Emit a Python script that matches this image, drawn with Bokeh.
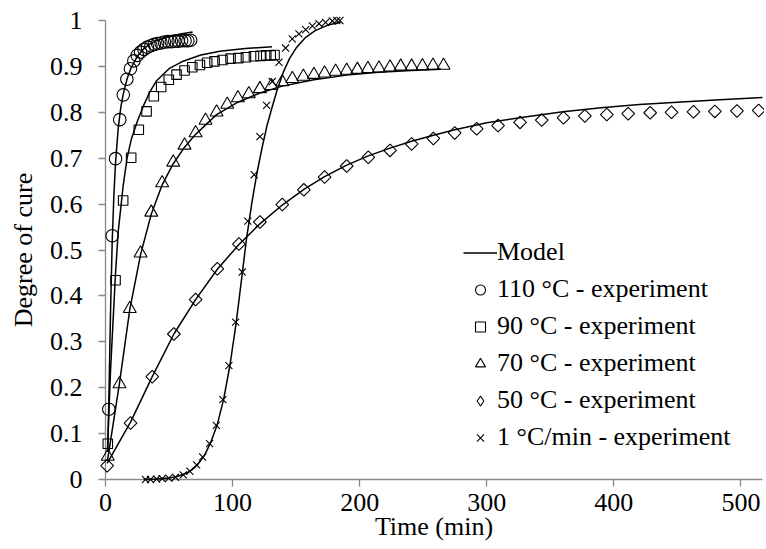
import math
from bokeh.plotting import figure
from bokeh.models import FixedTicker, CustomJSTickFormatter, Legend, LegendItem, Range1d
from bokeh.embed import file_html
from bokeh.resources import INLINE

# ---------------- data ----------------
x_ticks = [0, 100, 200, 300, 400, 500]
y_ticks = [0, 0.1, 0.2, 0.3, 0.4, 0.5, 0.6, 0.7, 0.8, 0.9, 1]

# 110 °C experiment
t110 = [2.6, 5.3, 7.9, 11.2, 14.0, 16.8, 19.6, 22.3, 25.0, 27.6, 30.3, 33.0, 35.7,
        38.4, 41.0, 43.7, 46.4, 49.1, 51.8, 54.5, 57.2, 59.9, 62.6, 64.8, 67.0]
a110 = [0.153, 0.531, 0.699, 0.784, 0.838, 0.872, 0.895, 0.912, 0.924, 0.931, 0.937, 0.942, 0.945,
        0.948, 0.950, 0.951, 0.953, 0.954, 0.954, 0.955, 0.955, 0.956, 0.956, 0.956, 0.957]
# 90 °C experiment
t90 = [1.8, 7.9, 13.9, 20.2, 26.2, 32.3, 38.0, 43.8, 49.8, 55.9, 62.2, 68.3, 74.3, 80.0,
       85.8, 92.1, 98.4, 104.5, 110.5, 116.8, 122.0, 126.5, 130.0, 133.0]
a90 = [0.078, 0.434, 0.608, 0.701, 0.762, 0.802, 0.835, 0.855, 0.871, 0.882, 0.891, 0.898, 0.903, 0.908,
       0.911, 0.914, 0.917, 0.918, 0.920, 0.922, 0.923, 0.924, 0.924, 0.925]
# 70 °C experiment
t70 = [1.8, 11.0, 19.1, 27.6, 36.0, 44.6, 53.3, 62.2, 70.9, 78.7, 87.4, 95.8, 104.2, 112.8,
       121.5, 130.5, 139.1, 147.0, 155.7, 164.0, 172.4, 181.1, 189.8, 198.2, 206.5, 215.2,
       223.9, 232.3, 240.9, 249.4, 257.7, 266.0]
a70 = [0.05, 0.208, 0.372, 0.493, 0.582, 0.646, 0.691, 0.728, 0.755, 0.782, 0.800, 0.817, 0.831, 0.840,
       0.851, 0.858, 0.866, 0.873, 0.878, 0.882, 0.885, 0.889, 0.891, 0.893, 0.895, 0.896,
       0.898, 0.900, 0.900, 0.901, 0.902, 0.902]
# 50 °C experiment
t50 = [1.3, 19.7, 36.8, 53.8, 70.9, 88.0, 105.0, 121.5, 139.1, 156.1, 172.4, 189.8, 206.8, 223.9,
       240.9, 258.0, 274.8, 292.1, 308.9, 326.2, 343.3, 360.4, 377.2, 394.5, 411.3, 428.6,
       445.4, 462.7, 479.5, 496.9, 514.0]
a50 = [0.03, 0.123, 0.224, 0.317, 0.392, 0.459, 0.513, 0.561, 0.599, 0.631, 0.659, 0.683, 0.702, 0.717,
       0.731, 0.743, 0.755, 0.764, 0.771, 0.778, 0.783, 0.788, 0.792, 0.795, 0.797, 0.799,
       0.800, 0.801, 0.802, 0.803, 0.804]
# 1 °C/min experiment
tR = [31.5, 35.4, 40.2, 44.6, 49.8, 55.1, 61.2, 66.4, 71.7, 76.4, 81.9, 87.2, 92.4, 97.1, 102.4,
      107.6, 112.0, 117.0, 121.5, 126.8, 131.2, 136.5, 141.7, 147.0, 152.2, 157.5, 162.8, 168.0,
      173.2, 178.5, 182.0, 184.5]
aR = [0.0, 0.0, 0.001, 0.002, 0.003, 0.005, 0.010, 0.018, 0.032, 0.049, 0.078, 0.118, 0.174, 0.248,
      0.343, 0.452, 0.563, 0.664, 0.747, 0.815, 0.867, 0.909, 0.940, 0.960, 0.971, 0.980, 0.988,
      0.993, 0.996, 0.999, 1.0, 1.0]

# Model curves
m110_t = [1.8, 2.6, 4.0, 5.3, 6.6, 7.9, 10, 12, 14, 17, 20, 25, 30, 35, 40, 50, 60, 68.5]
m110_a = [0.06, 0.17, 0.37, 0.52, 0.62, 0.69, 0.765, 0.81, 0.84, 0.873, 0.896, 0.922, 0.938,
          0.949, 0.956, 0.965, 0.971, 0.975]
m90_t = [1.5, 4.0, 7.9, 10.0, 13.9, 17, 20.2, 25, 30, 35, 40, 50, 60, 75, 90, 110, 131]
m90_a = [0.06, 0.24, 0.45, 0.54, 0.64, 0.70, 0.74, 0.78, 0.815, 0.845, 0.868, 0.895, 0.91,
         0.925, 0.933, 0.939, 0.943]
m70_t = [1.5, 11.0, 19.1, 27.6, 36.0, 44.6, 53.3, 62.2, 70.9, 87.4, 104.2, 121.5, 139.1, 164.0,
         189.8, 215.2, 240.9, 264.0]
m70_a = [0.04, 0.21, 0.37, 0.49, 0.578, 0.642, 0.688, 0.724, 0.752, 0.795, 0.822, 0.842, 0.857,
         0.871, 0.881, 0.887, 0.891, 0.894]
m50_t = [1.3, 19.7, 36.8, 53.8, 70.9, 88.0, 105.0, 121.5, 139.1, 156.1, 172.4, 189.8, 206.8,
         223.9, 240.9, 258.0, 274.8, 300, 330, 360, 390, 420, 450, 480, 517]
m50_a = [0.035, 0.125, 0.224, 0.317, 0.392, 0.458, 0.512, 0.557, 0.598, 0.632, 0.660, 0.685, 0.705,
         0.722, 0.737, 0.750, 0.762, 0.777, 0.790, 0.801, 0.810, 0.817, 0.822, 0.827, 0.832]
mR_t = [30, 40, 50, 57, 63, 68, 73, 78, 83, 88, 93, 98, 103, 107, 111, 115, 119, 123, 127, 131,
        135, 140, 145, 150, 157, 165, 175, 185]
mR_a = [0.0, 0.001, 0.003, 0.007, 0.013, 0.021, 0.034, 0.053, 0.082, 0.12, 0.175, 0.25, 0.345,
        0.435, 0.525, 0.6, 0.665, 0.72, 0.77, 0.81, 0.848, 0.888, 0.918, 0.94, 0.962, 0.978,
        0.99, 0.996]

labels = ["Model", "110 °C - experiment", "90 °C - experiment", "70 °C - experiment",
          "50 °C - experiment", "1 °C/min - experiment"]

# ---------------- figure ----------------
FONT = "Liberation Serif"
p = figure(width=764, height=549, output_backend="svg", toolbar_location=None,
           x_range=Range1d(0, 517), y_range=Range1d(0, 1),
           min_border_left=105, min_border_right=2, min_border_top=20, min_border_bottom=70)
p.outline_line_color = None
p.xgrid.visible = False
p.ygrid.visible = False
p.background_fill_color = "white"
p.border_fill_color = "white"

for ax in (p.xaxis[0], p.yaxis[0]):
    ax.axis_line_color = "#898989"
    ax.axis_line_width = 1.3
    ax.major_tick_line_color = "#898989"
    ax.major_tick_line_width = 1.3
    ax.major_tick_in = 0
    ax.major_tick_out = 7
    ax.minor_tick_line_color = None
    ax.major_label_text_font = FONT
    ax.major_label_text_font_size = "26px"
    ax.major_label_text_color = "black"
    ax.axis_label_text_font = FONT
    ax.axis_label_text_font_size = "26px"
    ax.axis_label_text_font_style = "normal"
    ax.axis_label_text_color = "black"

p.xaxis.ticker = FixedTicker(ticks=x_ticks)
p.yaxis.ticker = FixedTicker(ticks=y_ticks)
p.yaxis.formatter = CustomJSTickFormatter(code="return (Math.round(tick*10)/10).toString();")
p.xaxis.axis_label = "Time (min)"
p.yaxis.axis_label = "Degree of cure"
p.yaxis.major_label_standoff = 16
p.yaxis.axis_label_standoff = 9
p.xaxis.major_label_standoff = 7
p.xaxis.axis_label_standoff = -2

line_kw = dict(line_color="black", line_width=1.5, level="overlay")
models = []
for mt, ma in ((m110_t, m110_a), (m90_t, m90_a), (m70_t, m70_a), (m50_t, m50_a), (mR_t, mR_a)):
    models.append(p.line(mt, ma, **line_kw))

mk = dict(line_color="black", fill_alpha=0, line_width=1.1, level="overlay")
r110 = p.scatter(t110, a110, marker="circle", size=12.5, **mk)
r90 = p.scatter(t90, a90, marker="square", size=9.5, **mk)
r70 = p.scatter(t70, a70, marker="triangle", size=13, **mk)
r50 = p.scatter(t50, a50, marker="square", size=9, angle=math.pi / 4, **mk)
rR = p.scatter(tR, aR, marker="x", size=10, **mk)
# legend swatch for the diamonds (kept outside the visible ranges, clipped away)
r50_leg = p.scatter([-1000], [-1000], marker="diamond", size=10,
                    line_color="black", fill_alpha=0, line_width=1.1)

legend = Legend(items=[
    LegendItem(label=labels[0], renderers=[models[0]]),
    LegendItem(label=labels[1], renderers=[r110]),
    LegendItem(label=labels[2], renderers=[r90]),
    LegendItem(label=labels[3], renderers=[r70]),
    LegendItem(label=labels[4], renderers=[r50_leg]),
    LegendItem(label=labels[5], renderers=[rR]),
], location=(358, 27))
legend.padding = 0
legend.margin = 0
legend.spacing = 7
legend.glyph_width = 34
legend.glyph_height = 25
legend.label_standoff = 0
legend.label_text_font = FONT
legend.label_text_font_size = "26px"
legend.label_text_color = "black"
legend.border_line_color = None
legend.background_fill_alpha = 0
p.add_layout(legend)

open("out.html", "w").write(file_html(p, INLINE))
